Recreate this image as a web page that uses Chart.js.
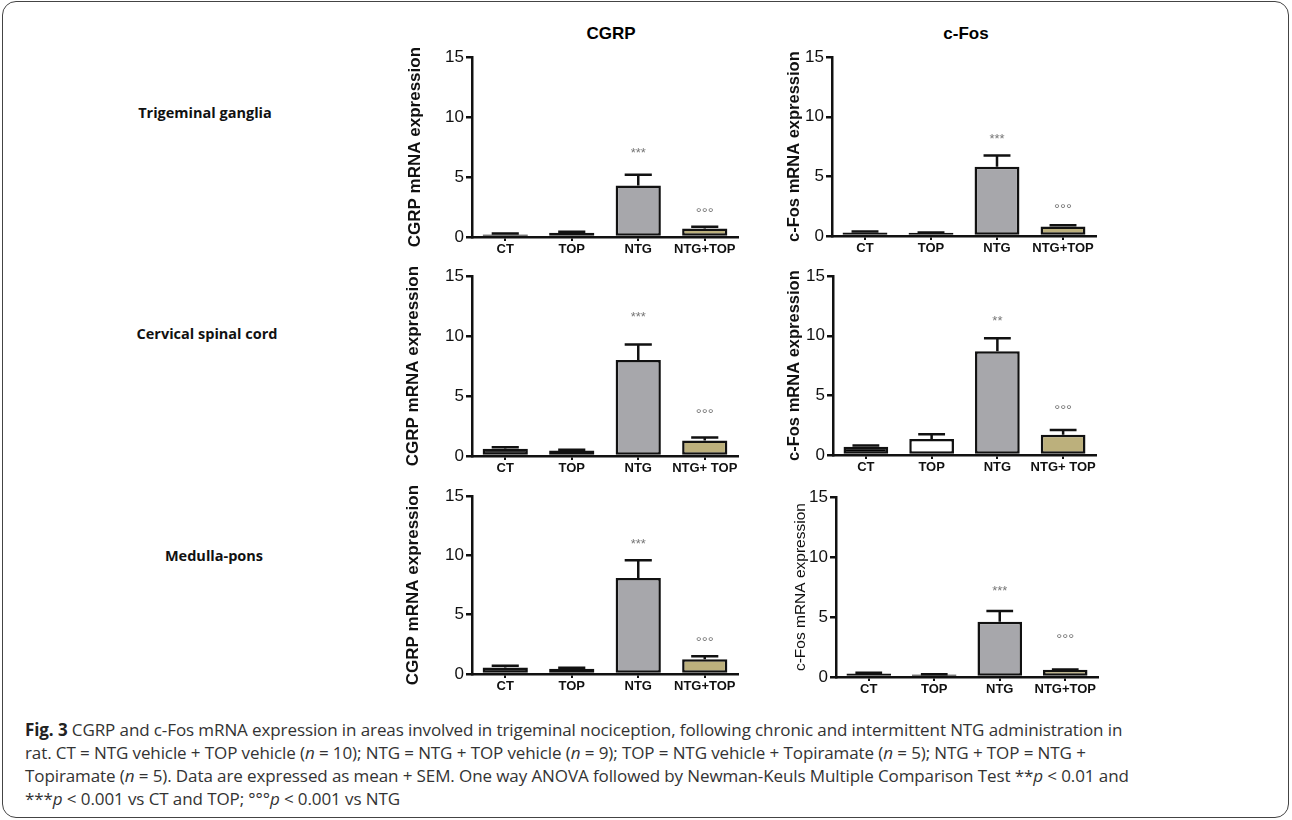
<!DOCTYPE html>
<html>
<head>
<meta charset="utf-8">
<script src="https://cdn.jsdelivr.net/npm/chart.js@4.4.1/dist/chart.umd.min.js"></script>
<style>
  body { margin: 0; background: #fff; width: 1292px; height: 820px; position: relative; overflow: hidden; font-family: "Liberation Sans", Arial, sans-serif; }
  .frame { position: absolute; left: 2px; top: 1px; width: 1285px; height: 815px; border: 1.5px solid #444; border-radius: 14px; }
  .panel { position: absolute; }
  .coltitle { position: absolute; font-weight: bold; font-size: 17px; transform: translate(-50%, -50%); white-space: nowrap; }
  .rowlabel { position: absolute; font-family: "Open Sans", sans-serif; font-weight: bold; font-size: 14.5px; transform: translate(-50%, -50%); white-space: nowrap; color: #111; }
  .caption { position: absolute; left: 25px; top: 718px; font-family: "Open Sans", sans-serif; font-size: 17px; line-height: 23px; color: #333; white-space: nowrap; letter-spacing: -0.1px; }
</style>
</head>
<body>
<div class="frame"></div>
<div class="coltitle" style="left:611px; top:34px">CGRP</div>
<div class="coltitle" style="left:966px; top:34px">c-Fos</div>
<div class="rowlabel" style="left:205px; top:112px">Trigeminal ganglia</div>
<div class="rowlabel" style="left:207px; top:333px">Cervical spinal cord</div>
<div class="rowlabel" style="left:214px; top:555px">Medulla-pons</div>

<div class="panel" id="p1" style="left:405px; top:45px; width:341px; height:220px"><canvas id="c1"></canvas></div>
<div class="panel" id="p2" style="left:785px; top:45px; width:319px; height:219px"><canvas id="c2"></canvas></div>
<div class="panel" id="p3" style="left:403px; top:264px; width:343px; height:220px"><canvas id="c3"></canvas></div>
<div class="panel" id="p4" style="left:785px; top:264px; width:319px; height:219px"><canvas id="c4"></canvas></div>
<div class="panel" id="p5" style="left:403px; top:484px; width:343px; height:218px"><canvas id="c5"></canvas></div>
<div class="panel" id="p6" style="left:791px; top:485px; width:315px; height:220px"><canvas id="c6"></canvas></div>

<div class="caption"><b style="color:#222">Fig. 3</b> CGRP and c-Fos mRNA expression in areas involved in trigeminal nociception, following chronic and intermittent NTG administration in<br>rat. CT = NTG vehicle + TOP vehicle (<i>n</i> = 10); NTG = NTG + TOP vehicle (<i>n</i> = 9); TOP = NTG vehicle + Topiramate (<i>n</i> = 5); NTG + TOP = NTG +<br>Topiramate (<i>n</i> = 5). Data are expressed as mean + SEM. One way ANOVA followed by Newman-Keuls Multiple Comparison Test **<i>p</i> &lt; 0.01 and<br>***<i>p</i> &lt; 0.001 vs CT and TOP; °°°<i>p</i> &lt; 0.001 vs NTG</div>

<script>
// group labels and colours
var groups = ["CT", "TOP", "NTG", "NTG+TOP"];
var groupsSpaced = ["CT", "TOP", "NTG", "NTG+ TOP"];
var barColors = ["#000000", "#ffffff", "#a7a7ab", "#bcb07c"];

// trigeminal ganglia
var tgCgrpMean = [0.2, 0.35, 4.3, 0.7];
var tgCgrpSem = [0.1, 0.08, 0.9, 0.15];
var tgCgrpSig = ["", "", "***", "°°°"];
var tgCgrpSigAt = [null, null, 7.1, 2.25];

var tgFosMean = [0.3, 0.28, 5.8, 0.8];
var tgFosSem = [0.08, 0.02, 0.95, 0.1];
var tgFosSig = ["", "", "***", "°°°"];
var tgFosSigAt = [null, null, 8.25, 2.5];

// cervical spinal cord
var csCgrpMean = [0.6, 0.45, 8.0, 1.3];
var csCgrpSem = [0.12, 0.08, 1.3, 0.25];
var csCgrpSig = ["", "", "***", "°°°"];
var csCgrpSigAt = [null, null, 11.75, 3.75];

var csFosMean = [0.7, 1.35, 8.7, 1.7];
var csFosSem = [0.1, 0.4, 1.1, 0.4];
var csFosSig = ["", "", "**", "°°°"];
var csFosSigAt = [null, null, 11.4, 4.0];

// medulla-pons
var mpCgrpMean = [0.55, 0.45, 8.1, 1.25];
var mpCgrpSem = [0.15, 0.08, 1.5, 0.25];
var mpCgrpSig = ["", "", "***", "°°°"];
var mpCgrpSigAt = [null, null, 11.1, 2.95];

var mpFosMean = [0.3, 0.2, 4.6, 0.6];
var mpFosSem = [0.05, 0.02, 0.9, 0.03];
var mpFosSig = ["", "", "***", "°°°"];
var mpFosSigAt = [null, null, 7.33, 3.4];

var yMax = 15;
var yStep = 5;

Chart.defaults.font.family = "'Liberation Sans', Arial, sans-serif";
Chart.defaults.color = "#111";

// draws mean + SEM (upper whisker only) and the significance marks
var errBars = {
    id: "errbars",
    afterDatasetsDraw: function (chart, args, opts) {
        var ctx = chart.ctx;
        var meta = chart.getDatasetMeta(0);
        var y = chart.scales.y;
        ctx.save();
        meta.data.forEach(function (bar, i) {
            var mean = opts.mean[i];
            var top = y.getPixelForValue(mean + opts.sem[i]);
            var cap = bar.width * 0.3;
            ctx.strokeStyle = "#111";
            ctx.lineWidth = 2.5;
            ctx.beginPath();
            ctx.moveTo(bar.x, bar.y);
            ctx.lineTo(bar.x, top);
            ctx.moveTo(bar.x - cap, top);
            ctx.lineTo(bar.x + cap, top);
            ctx.stroke();

            var s = opts.sig[i];
            if (s) {
                var sy = y.getPixelForValue(opts.sigAt[i]);
                ctx.fillStyle = "#777";
                ctx.textAlign = "center";
                ctx.textBaseline = "middle";
                if (s.charAt(0) === "°") {
                    ctx.font = "15px 'Liberation Sans', Arial";
                    ctx.fillText(s, bar.x, sy + 4);
                } else {
                    ctx.font = "13px 'Liberation Sans', Arial";
                    ctx.fillText(s, bar.x, sy + 2);
                }
            }
        });
        ctx.restore();
    }
};

function makePanel(id, labels, mean, sem, sig, sigAt, yTitle, yWidth, titleBold, titleSize) {
    new Chart(document.getElementById(id).getContext("2d"), {
        type: "bar",
        data: {
            labels: labels,
            datasets: [{
                data: mean,
                backgroundColor: barColors,
                borderColor: "#111",
                borderWidth: 2.5,
                borderSkipped: false,
                barPercentage: 0.68,
                categoryPercentage: 1
            }]
        },
        options: {
            responsive: true,
            maintainAspectRatio: false,
            animation: false,
            layout: { padding: { top: 12, right: 8, left: 0, bottom: 0 } },
            plugins: {
                legend: { display: false },
                tooltip: { enabled: false },
                errbars: { mean: mean, sem: sem, sig: sig, sigAt: sigAt }
            },
            scales: {
                x: {
                    grid: { drawOnChartArea: false, offset: false, tickLength: 4, color: "#111", lineWidth: 2 },
                    border: { color: "#111", width: 2.5 },
                    ticks: { font: { size: 13, weight: "bold" }, padding: 1, maxRotation: 0, autoSkip: false, color: "#111" },
                    afterFit: function (s) { s.height = 28; }
                },
                y: {
                    min: 0,
                    max: yMax,
                    ticks: { stepSize: yStep, font: { size: 17 }, padding: 2, color: "#111" },
                    grid: { drawOnChartArea: false, tickLength: 6, color: "#111", lineWidth: 2.5 },
                    border: { color: "#111", width: 2.5 },
                    title: {
                        display: true,
                        text: yTitle,
                        padding: 0,
                        color: "#111",
                        font: { size: titleSize, weight: titleBold ? "bold" : "normal" }
                    },
                    afterFit: function (s) { s.width = yWidth; }
                }
            }
        },
        plugins: [errBars]
    });
}

makePanel("c1", groups, tgCgrpMean, tgCgrpSem, tgCgrpSig, tgCgrpSigAt, "CGRP mRNA expression", 67, true, 17);
makePanel("c2", groups, tgFosMean, tgFosSem, tgFosSig, tgFosSigAt, "c-Fos mRNA expression", 47, true, 16.5);
makePanel("c3", groupsSpaced, csCgrpMean, csCgrpSem, csCgrpSig, csCgrpSigAt, "CGRP mRNA expression", 69, true, 17);
makePanel("c4", groupsSpaced, csFosMean, csFosSem, csFosSig, csFosSigAt, "c-Fos mRNA expression", 48, true, 16.5);
makePanel("c5", groups, mpCgrpMean, mpCgrpSem, mpCgrpSig, mpCgrpSigAt, "CGRP mRNA expression", 69, true, 17);
makePanel("c6", groups, mpFosMean, mpFosSem, mpFosSig, mpFosSigAt, "c-Fos mRNA expression", 45, false, 15.5);
</script>
</body>
</html>
